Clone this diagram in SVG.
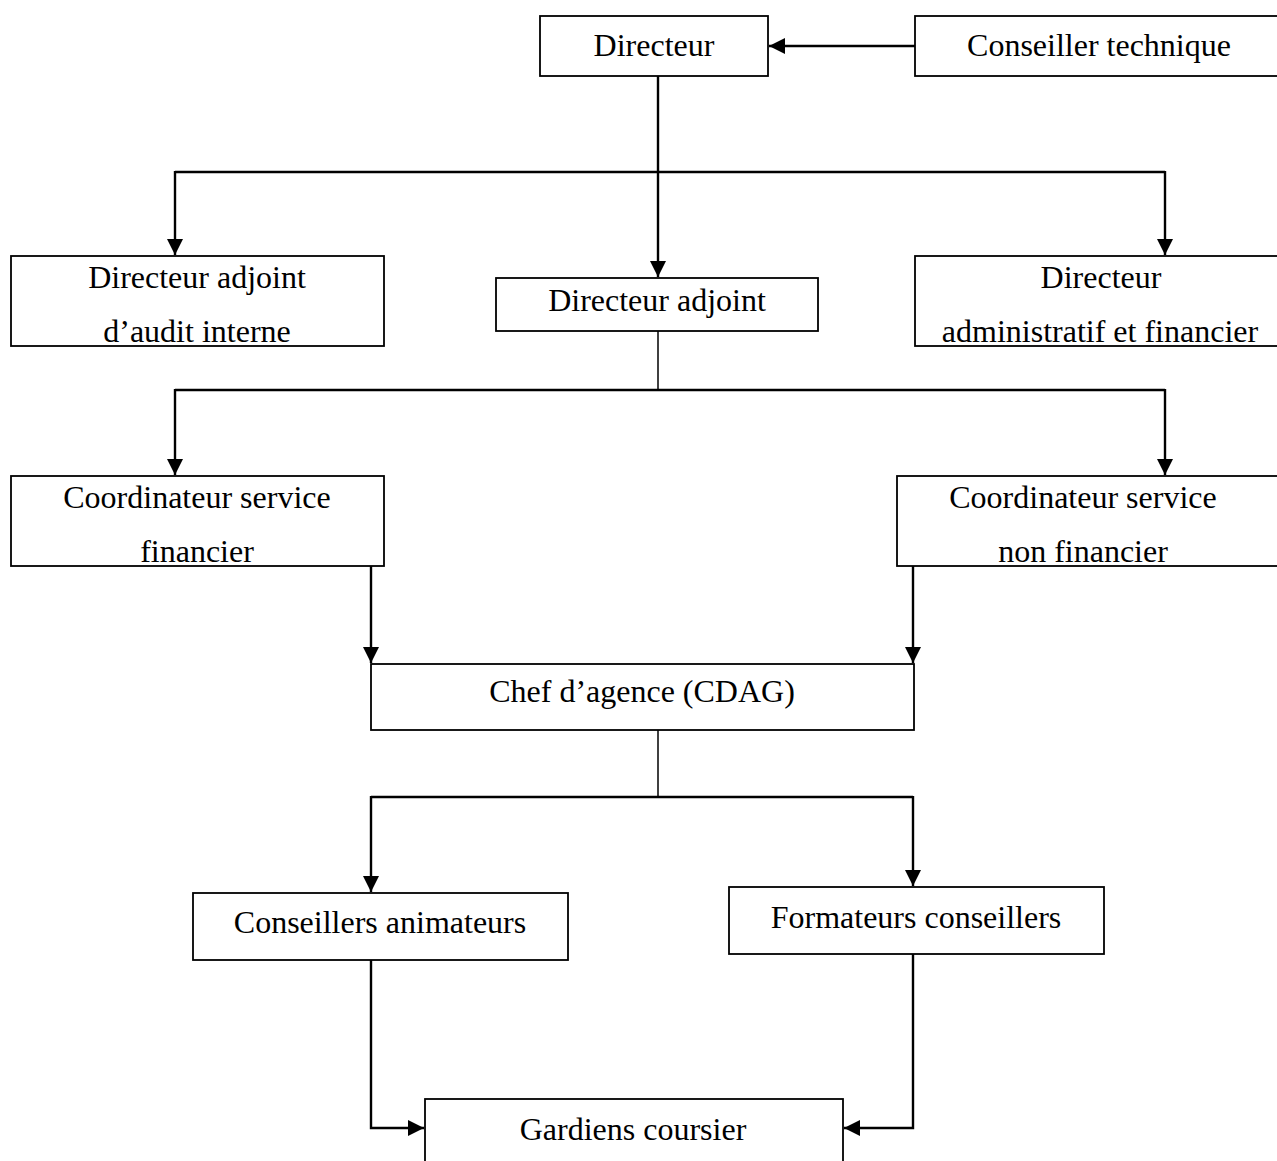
<svg xmlns="http://www.w3.org/2000/svg" width="1277" height="1161" viewBox="0 0 1277 1161">
<style>
.box{fill:#fff;stroke:#000;stroke-width:1.8}
.t{font-family:"Liberation Serif","Times New Roman",serif;font-size:32px;fill:#000;text-anchor:middle}
.c{fill:none;stroke:#000;stroke-width:2.4}
.p{fill:none;stroke:#000;stroke-width:1.5}
</style>
<defs>
<marker id="ah" markerUnits="userSpaceOnUse" markerWidth="17" markerHeight="17" refX="16" refY="8" orient="auto" viewBox="0 0 17 17">
<path d="M0,0 L16,8 L0,16 z" fill="#000"/>
</marker>
</defs>
<rect width="1277" height="1161" fill="#fff"/>
<g id="connectors">
<line class="c" x1="915" y1="46" x2="769" y2="46" marker-end="url(#ah)"/>
<line class="c" x1="658" y1="76" x2="658" y2="277" marker-end="url(#ah)"/>
<polyline class="c" points="175,172 1165,172"/>
<line class="c" x1="175" y1="171" x2="175" y2="255" marker-end="url(#ah)"/>
<line class="c" x1="1165" y1="171" x2="1165" y2="255" marker-end="url(#ah)"/>
<line class="p" x1="658" y1="331" x2="658" y2="390"/>
<polyline class="c" points="175,390 1165,390"/>
<line class="c" x1="175" y1="389" x2="175" y2="475" marker-end="url(#ah)"/>
<line class="c" x1="1165" y1="389" x2="1165" y2="475" marker-end="url(#ah)"/>
<line class="c" x1="371" y1="566" x2="371" y2="663" marker-end="url(#ah)"/>
<line class="c" x1="913" y1="566" x2="913" y2="663" marker-end="url(#ah)"/>
<line class="p" x1="658" y1="730" x2="658" y2="797"/>
<polyline class="c" points="371,797 913,797"/>
<line class="c" x1="371" y1="796" x2="371" y2="892" marker-end="url(#ah)"/>
<line class="c" x1="913" y1="796" x2="913" y2="886" marker-end="url(#ah)"/>
<polyline class="c" points="371,960 371,1128 424,1128" marker-end="url(#ah)"/>
<polyline class="c" points="913,954 913,1128 844,1128" marker-end="url(#ah)"/>
</g>
<g id="n-directeur">
<rect class="box" x="540" y="16" width="228" height="60"/>
<text class="t" x="654" y="56">Directeur</text>
</g>
<g id="n-conseiller-technique">
<rect class="box" x="915" y="16" width="370" height="60"/>
<text class="t" x="1099" y="56">Conseiller technique</text>
</g>
<g id="n-da-audit">
<rect class="box" x="11" y="256" width="373" height="90"/>
<text class="t" x="197" y="288">Directeur adjoint</text>
<text class="t" x="197" y="342">d’audit interne</text>
</g>
<g id="n-da">
<rect class="box" x="496" y="278" width="322" height="53"/>
<text class="t" x="657" y="311">Directeur adjoint</text>
</g>
<g id="n-daf">
<rect class="box" x="915" y="256" width="370" height="90"/>
<text class="t" x="1101" y="288">Directeur</text>
<text class="t" x="1100" y="342">administratif et financier</text>
</g>
<g id="n-csf">
<rect class="box" x="11" y="476" width="373" height="90"/>
<text class="t" x="197" y="508">Coordinateur service</text>
<text class="t" x="197" y="562">financier</text>
</g>
<g id="n-csnf">
<rect class="box" x="897" y="476" width="388" height="90"/>
<text class="t" x="1083" y="508">Coordinateur service</text>
<text class="t" x="1083" y="562">non financier</text>
</g>
<g id="n-chef">
<rect class="box" x="371" y="664" width="543" height="66"/>
<text class="t" x="642" y="702">Chef d’agence (CDAG)</text>
</g>
<g id="n-conseillers">
<rect class="box" x="193" y="893" width="375" height="67"/>
<text class="t" x="380" y="933">Conseillers animateurs</text>
</g>
<g id="n-formateurs">
<rect class="box" x="729" y="887" width="375" height="67"/>
<text class="t" x="916" y="928">Formateurs conseillers</text>
</g>
<g id="n-gardiens">
<rect class="box" x="425" y="1099" width="418" height="80"/>
<text class="t" x="633" y="1140">Gardiens coursier</text>
</g>
</svg>
